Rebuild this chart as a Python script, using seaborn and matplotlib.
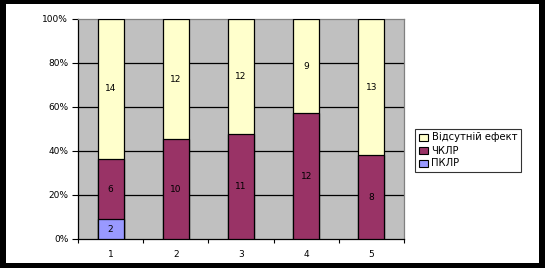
import numpy as np
import pandas as pd
import seaborn as sns
import matplotlib
matplotlib.use("Agg")
import matplotlib.pyplot as plt
from matplotlib.patches import Rectangle, Patch

categories = ["1", "2", "3", "4", "5"]
pklr = [2, 0, 0, 0, 0]
chklr = [6, 10, 11, 12, 8]
absent = [14, 12, 12, 9, 13]
series_names = ["Відсутній ефект", "ЧКЛР", "ПКЛР"]
colors = {"ПКЛР": "#9999FF", "ЧКЛР": "#993366", "Відсутній ефект": "#FFFFCC"}
yticklabels = ["0%", "20%", "40%", "60%", "80%", "100%"]

sns.set_style("white")
plt.rcParams["font.family"] = ["DejaVu Sans"]
plt.rcParams["text.color"] = "black"

df = pd.DataFrame({"cat": categories, "ПКЛР": pklr, "ЧКЛР": chklr, "Відсутній ефект": absent})
tot = df[["ПКЛР", "ЧКЛР", "Відсутній ефект"]].sum(axis=1)
df["p1"] = df["ПКЛР"] / tot * 100
df["p2"] = (df["ПКЛР"] + df["ЧКЛР"]) / tot * 100
df["p3"] = 100.0

fig = plt.figure(figsize=(5.45, 2.68), dpi=100, facecolor="black")
bg = Rectangle((6 / 545, 1 - 263 / 268), 533 / 545, 259 / 268,
               transform=fig.transFigure, facecolor="white",
               edgecolor="none", zorder=-10)
fig.add_artist(bg)
ax = fig.add_axes([78 / 545, 1 - 239 / 268, 326 / 545, 220 / 268])
ax.set_zorder(5)
ax.set_facecolor("#C0C0C0")

kw = dict(ax=ax, width=0.4, edgecolor="black", linewidth=0.9, zorder=3)
sns.barplot(data=df, x="cat", y="p3", color=colors["Відсутній ефект"], saturation=1, **kw)
sns.barplot(data=df, x="cat", y="p2", color=colors["ЧКЛР"], saturation=1, **kw)
sns.barplot(data=df, x="cat", y="p1", color=colors["ПКЛР"], saturation=1, **kw)
for p in ax.patches:
    if p.get_height() == 0:
        p.set_visible(False)

for i in range(len(categories)):
    segs = [(0, df["p1"][i], pklr[i]), (df["p1"][i], df["p2"][i], chklr[i]), (df["p2"][i], 100, absent[i])]
    for lo, hi, v in segs:
        if v > 0:
            ax.text(i, (lo + hi) / 2, str(v), ha="center", va="center", fontsize=6.5,
                    color="black", zorder=5)

ax.set_xlim(-0.5, 4.5)
ax.set_ylim(0, 100)
ax.set_yticks([0, 20, 40, 60, 80, 100])
ax.set_yticklabels(yticklabels, fontsize=6.5)
ax.set_xticks(range(5))
ax.set_xticklabels(categories, fontsize=6.5)
ax.set_xticks(np.arange(-0.5, 5, 1), minor=True)
ax.tick_params(axis="x", which="major", bottom=True, length=0, pad=8, labelcolor="black")
ax.tick_params(axis="x", which="minor", bottom=True, length=3, width=0.8, direction="out", color="black")
ax.tick_params(axis="y", which="major", left=True, length=4, width=0.8, direction="out",
               color="black", pad=3, labelcolor="black")
ax.set_xlabel("")
ax.set_ylabel("")
for y in [20, 40, 60, 80]:
    ax.axhline(y, color="black", linewidth=0.9, zorder=1)
for s in ["left", "bottom"]:
    ax.spines[s].set_color("black")
    ax.spines[s].set_linewidth(0.9)
for s in ["top", "right"]:
    ax.spines[s].set_color("#808080")
    ax.spines[s].set_linewidth(0.9)

handles = [Patch(facecolor=colors[n], edgecolor="black", linewidth=0.8, label=n) for n in series_names]
leg = fig.legend(handles=handles, loc="upper left", bbox_to_anchor=(415 / 545, 1 - 129 / 268),
                 fontsize=7.2, frameon=True, fancybox=False, borderpad=0.35, labelspacing=0.3,
                 handlelength=0.9, handleheight=0.7, handletextpad=0.4, borderaxespad=0)
leg.get_frame().set_edgecolor("black")
leg.get_frame().set_linewidth(0.8)
for t in leg.get_texts():
    t.set_color("black")
leg.set_zorder(6)

fig.savefig("out.png", dpi=100, facecolor="black")
